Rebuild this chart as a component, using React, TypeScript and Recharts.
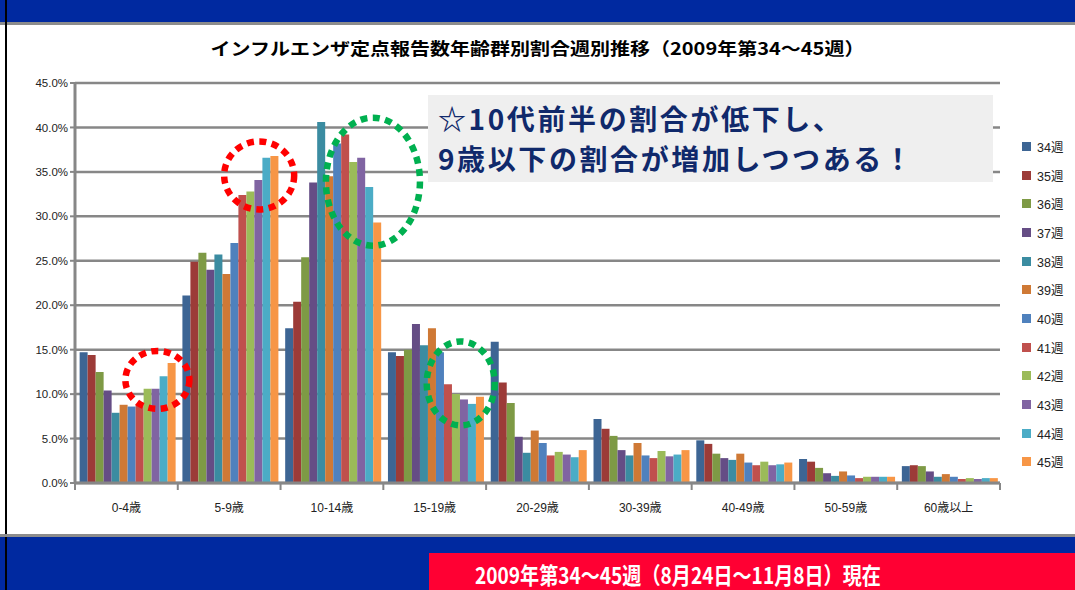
import { BarChart, Bar, XAxis, YAxis, CartesianGrid, ReferenceDot } from 'recharts'

// 年齢群
const ageGroups = ['0-4歳', '5-9歳', '10-14歳', '15-19歳', '20-29歳', '30-39歳', '40-49歳', '50-59歳', '60歳以上']

// 週ごとの割合(%)、年齢群の順
const w34 = [14.7, 21.1, 17.4, 14.7, 15.9, 7.2, 4.8, 2.7, 1.9]
const w35 = [14.4, 24.9, 20.4, 14.3, 11.3, 6.1, 4.4, 2.4, 2.0]
const w36 = [12.5, 25.9, 25.4, 15.0, 9.0, 5.3, 3.3, 1.7, 1.9]
const w37 = [10.4, 24.0, 33.8, 17.9, 5.2, 3.7, 2.8, 1.1, 1.3]
const w38 = [7.9, 25.7, 40.6, 15.5, 3.4, 3.1, 2.6, 0.8, 0.7]
const w39 = [8.8, 23.5, 34.5, 17.4, 5.9, 4.5, 3.3, 1.3, 1.0]
const w40 = [8.6, 27.0, 38.2, 14.7, 4.5, 3.1, 2.3, 0.85, 0.7]
const w41 = [8.9, 32.4, 39.2, 11.1, 3.1, 2.8, 2.0, 0.55, 0.45]
const w42 = [10.6, 32.8, 36.1, 10.0, 3.5, 3.6, 2.4, 0.7, 0.55]
const w43 = [10.6, 34.1, 36.6, 9.4, 3.2, 3.0, 2.0, 0.7, 0.45]
const w44 = [12.0, 36.6, 33.3, 8.9, 2.9, 3.2, 2.1, 0.7, 0.55]
const w45 = [13.5, 36.8, 29.3, 9.7, 3.7, 3.7, 2.3, 0.7, 0.55]

const weeks = ['34週', '35週', '36週', '37週', '38週', '39週', '40週', '41週', '42週', '43週', '44週', '45週']
const weekValues = [w34, w35, w36, w37, w38, w39, w40, w41, w42, w43, w44, w45]
const colors = [
	'#3D6594', '#9C3B38', '#7E9A45', '#654D85', '#3B8CA1', '#CF7935',
	'#4F81BD', '#C0504D', '#9BBB59', '#8064A2', '#4BACC6', '#F79646',
]
const yTicks = [0, 5, 10, 15, 20, 25, 30, 35, 40, 45]

const data = ageGroups.map((age, i) => {
	const row: Record<string, any> = { age }
	weeks.forEach((w, j) => {
		row[w] = weekValues[j][i]
	})
	return row
})

const FONT = "'Liberation Sans', 'Noto Sans CJK JP', sans-serif"
const JP = "'Noto Sans CJK JP', 'Liberation Sans', sans-serif"

const PLOT_LEFT = 75
const PLOT_RIGHT = 1000
const BAND = (PLOT_RIGHT - PLOT_LEFT) / ageGroups.length

function AgeTick({ x, y, payload, index }: any) {
	return (
		<g>
			<line x1={x + BAND / 2} x2={x + BAND / 2} y1={y - 8} y2={y - 1} stroke="#878787" strokeWidth={2} />
			{index === 0 && <line x1={x - BAND / 2} x2={x - BAND / 2} y1={y - 8} y2={y - 1} stroke="#878787" strokeWidth={2} />}
			<text x={x} y={y + 21} textAnchor="middle" fontSize={12} fill="#222" fontFamily={FONT}>
				{payload.value}
			</text>
		</g>
	)
}

function dashedRing(color: string, dx: number, rx: number, ry: number) {
	return (props: any) => (
		<ellipse
			cx={props.cx + dx}
			cy={props.cy}
			rx={rx}
			ry={ry}
			fill="none"
			stroke={color}
			strokeWidth={6.5}
			strokeDasharray="7 5.5"
		/>
	)
}

function WeekLegend() {
	return (
		<div style={{ position: 'absolute', left: 1022, top: 132, fontFamily: FONT, fontSize: 12.5, color: '#222' }}>
			{weeks.map((w, i) => (
				<div key={w} style={{ height: 28.7, display: 'flex', alignItems: 'center' }}>
					<span style={{ width: 9, height: 9, background: colors[i], display: 'inline-block', marginRight: 6 }} />
					{w}
				</div>
			))}
		</div>
	)
}

export default function App() {
	return (
		<div style={{ position: 'absolute', left: 0, top: 0, width: 1075, height: 590, background: '#fff', overflow: 'hidden' }}>
			<div style={{ position: 'absolute', left: 0, top: 0, width: 1075, height: 22, background: '#0029A0' }} />
			<div style={{ position: 'absolute', left: 0, top: 22, width: 1075, height: 3, background: '#8c8c8c' }} />
			<div style={{ position: 'absolute', left: 5, top: 0, width: 2, height: 590, background: '#000' }} />
			<div
				style={{
					position: 'absolute', left: 0, top: 26, width: 1075, textAlign: 'center',
					fontFamily: JP, fontWeight: 700, fontSize: 20, color: '#000', lineHeight: '44px',
					transform: 'scaleY(0.88)',
				}}
			>
				インフルエンザ定点報告数年齢群別割合週別推移（2009年第34～45週）
			</div>

			<div style={{ position: 'absolute', left: 0, top: 0 }}>
				<BarChart
					width={1075}
					height={590}
					data={data}
					margin={{ top: 83, right: 1075 - PLOT_RIGHT, bottom: 77, left: 8 }}
					barCategoryGap="4.5%"
					barGap={0}
				>
					<CartesianGrid vertical={false} stroke="#878787" strokeWidth={2.5} />
					<XAxis
						dataKey="age"
						tick={<AgeTick />}
						tickLine={false}
						axisLine={{ stroke: '#878787', strokeWidth: 3 }}
						height={30}
						interval={0}
					/>
					<YAxis
						domain={[0, 45]}
						ticks={yTicks}
						tickFormatter={(v: number) => v.toFixed(1) + '%'}
						width={67}
						tick={{ fontSize: 11.5, fill: '#222', fontFamily: FONT }}
						tickLine={{ stroke: '#878787', strokeWidth: 2 }}
						axisLine={{ stroke: '#878787', strokeWidth: 3 }}
						tickSize={5}
					/>
					{weeks.map((w, i) => (
						<Bar key={w} dataKey={w} fill={colors[i]} isAnimationActive={false} />
					))}
					<ReferenceDot x="0-4歳" y={11.6} r={1} shape={dashedRing('#FF0000', 31, 32, 29)} />
					<ReferenceDot x="5-9歳" y={34.6} r={1} shape={dashedRing('#FF0000', 30, 35, 34)} />
					<ReferenceDot x="10-14歳" y={33.9} r={1} shape={dashedRing('#00B050', 41, 47, 64)} />
					<ReferenceDot x="15-19歳" y={11.2} r={1} shape={dashedRing('#00B050', 26, 34, 42)} />
				</BarChart>
			</div>

			<WeekLegend />

			<div
				style={{
					position: 'absolute', left: 428, top: 95, width: 565, height: 87, background: '#EFEFEF',
					fontFamily: JP, fontWeight: 700, fontSize: 28, color: '#10296B', lineHeight: '40px',
					paddingLeft: 10, paddingTop: 3, boxSizing: 'border-box', letterSpacing: 2.6, whiteSpace: 'nowrap',
				}}
			>
				<div>☆10代前半の割合が低下し、</div>
				<div>9歳以下の割合が増加しつつある！</div>
			</div>

			<div style={{ position: 'absolute', left: 0, top: 534, width: 1075, height: 3, background: '#8c8c8c' }} />
			<div style={{ position: 'absolute', left: 0, top: 537, width: 1075, height: 53, background: '#0029A0' }} />
			<div
				style={{
					position: 'absolute', left: 429, top: 553, width: 646, height: 37, background: '#FF0033',
					overflow: 'hidden',
				}}
			>
				<div
					style={{
						position: 'absolute', left: 46, top: 1, fontFamily: JP, fontWeight: 700, fontSize: 23,
						color: '#fff', lineHeight: '40px', whiteSpace: 'nowrap',
						transform: 'scaleX(0.83)', transformOrigin: 'left center',
					}}
				>
					2009年第34～45週（8月24日～11月8日）現在
				</div>
			</div>
			<div style={{ position: 'absolute', left: 5, top: 537, width: 2, height: 53, background: '#000' }} />
		</div>
	)
}
